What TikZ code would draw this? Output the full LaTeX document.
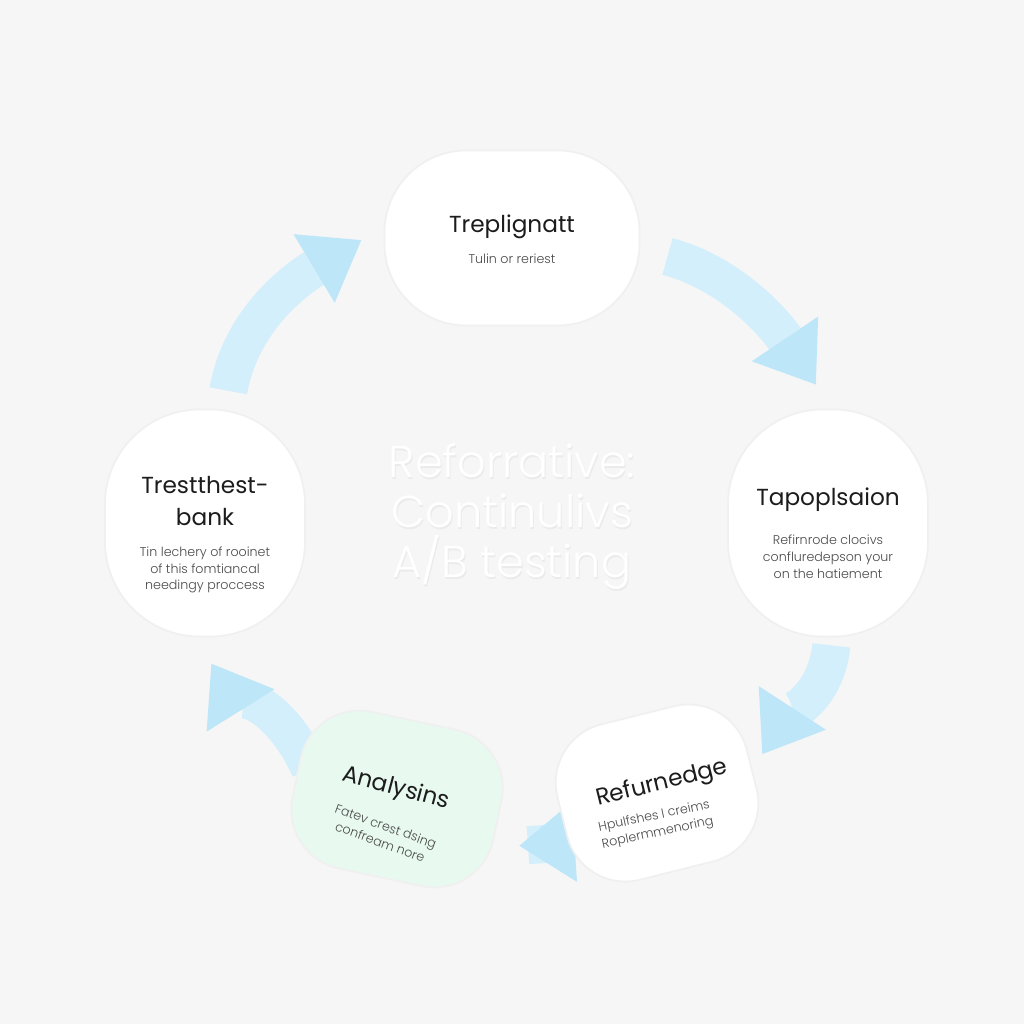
\documentclass[tikz,border=0pt]{standalone}
\usepackage{fontspec}
\setmainfont{Poppins}
\newfontfamily\poplight{Poppins Light}
\usetikzlibrary{arrows.meta}
\definecolor{bgcol}{HTML}{F6F6F6}
\definecolor{flowcol}{HTML}{D3EFFB}
\definecolor{headcol}{HTML}{BDE6F8}
\definecolor{mintcol}{HTML}{E8F9EF}
\definecolor{inkcol}{HTML}{1C1C1C}
\definecolor{subcol}{HTML}{4A4A4A}
\pgfdeclarelayer{bg}
\pgfdeclarelayer{flows}
\pgfsetlayers{bg,flows,main}

\begin{document}
\begin{tikzpicture}[x=0.01cm,y=0.01cm,
  blob/.style={draw=black!6,line width=0.5pt,fill=white,inner sep=0pt},
  flow/.style={draw=flowcol,line width=0.38cm,-{Triangle[width=0.8cm,length=0.55cm,line width=0pt,color=headcol]}},
  title/.style={font=\fontsize{6.6}{9.1}\selectfont,text=inkcol,align=center},
  sub/.style={font=\poplight\fontsize{3.6}{4.8}\selectfont,text=subcol,align=center},
  mid/.style={font=\poplight\fontsize{12.7}{14.2}\selectfont,align=center}]
  \begin{pgfonlayer}{bg}
    \path[use as bounding box,fill=bgcol] (0,0) rectangle (1024,1024);
  \end{pgfonlayer}

  % steps of the cycle
  \node[blob,minimum width=2.55cm,minimum height=1.75cm,rounded corners=0.82cm] (trep) at (512,786) {};
  \node[blob,minimum width=2cm,minimum height=2.27cm,rounded corners=0.95cm] (tapo) at (828,501) {};
  \node[blob,minimum width=1.95cm,minimum height=1.6cm,rounded corners=0.6cm,rotate=14] (refu) at (657,231) {};
  \node[blob,fill=mintcol,minimum width=2.05cm,minimum height=1.6cm,rounded corners=0.6cm,rotate=-12] (anal) at (397,225) {};
  \node[blob,minimum width=2cm,minimum height=2.27cm,rounded corners=0.95cm] (trest) at (205,501) {};

  \node[title] (trep-t) at (512,797) {Treplignatt};
  \node[sub] (trep-s) at (512,765) {Tulin or reriest};
  \node[title] (tapo-t) at (828,524) {Tapoplsaion};
  \node[sub] (tapo-s) at (828,467) {Refirnrode clocivs\\confluredepson your\\on the hatiement};
  \node[title,rotate=14] (refu-t) at (662,240) {Refurnedge};
  \node[sub,rotate=12] (refu-s) at (656,199) {Hpulfshes l creims\\Roplermmenoring};
  \node[title,rotate=-15] (anal-t) at (396,235) {Analysins};
  \node[sub,rotate=-20] (anal-s) at (383,190) {Fatev crest dsing\\confream nore};
  \node[title] (trest-t) at (205,523) {Trestthest-\\bank};
  \node[sub] (trest-s) at (205,454) {Tin lechery of rooinet\\of this fomtiancal\\needingy proccess};

  % centre
  \node[mid,text=black!8] (hub-sh) at (513,505.5) {Reforrative:\\Continulivs\\A/B testing};
  \node[mid,text=white] (hub) at (512,507) {Reforrative:\\Continulivs\\A/B testing};

  \begin{pgfonlayer}{flows}
    \draw[flow,shorten <=0.18cm,shorten >=0.26cm] (trest.80) to[out=80,in=211] (trep.175);
    \draw[flow,shorten <=0.28cm,shorten >=0.29cm] (trep.-5) to[out=-15,in=124] (tapo.88);
    \draw[flow,shorten <=0.08cm,shorten >=0.18cm] (tapo.-88) to[out=-95,in=57] (refu.east);
    \draw[flow,shorten <=-0.4cm,shorten >=0.27cm] (refu.195) -- (anal.-15);
    \draw[flow,shorten <=-0.2cm,shorten >=0.31cm] (anal.165) to[out=115,in=-58] (trest.-95);
  \end{pgfonlayer}
\end{tikzpicture}
\end{document}
